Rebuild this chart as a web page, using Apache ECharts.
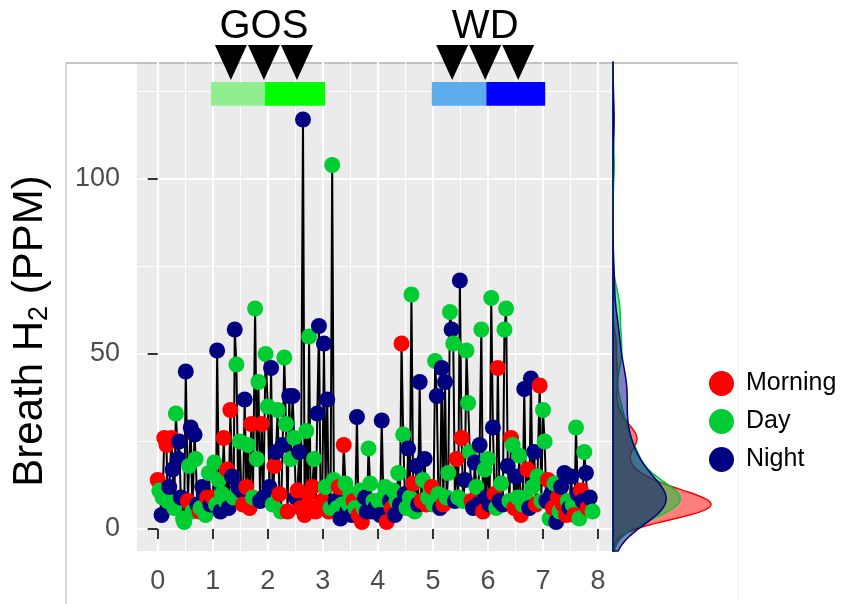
<!DOCTYPE html>
<html><head><meta charset="utf-8">
<script src="https://cdn.jsdelivr.net/npm/echarts@6/dist/echarts.min.js"></script>
<style>html,body{margin:0;padding:0;background:#fff}#c{width:846px;height:604px}</style>
</head><body><div id="c"></div>
<script>
// ---- data ----
const times = [
 0.00,0.03,0.07,0.09,0.12,0.16,0.18,0.21,0.25,0.27,0.30,0.33,0.37,0.39,0.42,0.46,0.48,0.51,0.55,0.57,0.60,0.63,0.67,0.69,0.72,0.76,0.78,0.81,0.85,0.87,0.90,0.93,0.96,
 1.00,1.03,1.06,1.08,1.11,1.14,1.17,1.20,1.23,1.26,1.29,1.32,1.35,1.38,1.40,1.43,1.46,1.49,1.52,1.55,1.58,1.61,1.64,1.67,1.70,1.73,1.77,1.80,1.83,1.86,1.89,1.92,1.96,
 2.00,2.03,2.06,2.09,2.12,2.15,2.18,2.21,2.24,2.27,2.30,2.33,2.36,2.39,2.42,2.45,2.48,2.51,2.54,2.57,2.60,2.64,2.67,2.70,2.73,2.75,2.78,2.81,2.84,2.87,2.90,2.93,2.96,
 2.99,3.02,3.05,3.08,3.11,3.14,3.17,3.20,3.23,3.26,3.29,3.32,3.35,3.38,3.41,3.44,3.47,3.50,3.53,3.56,3.59,3.62,3.65,3.68,3.71,3.74,3.77,3.80,3.83,3.86,3.89,3.92,3.95,
 3.98,4.01,4.04,4.07,4.10,4.13,4.16,4.19,4.22,4.25,4.28,4.31,4.34,4.37,4.40,4.43,4.46,4.49,4.52,4.55,4.58,4.61,4.64,4.67,4.70,4.73,4.76,4.79,4.82,4.85,4.88,4.91,4.95,
 4.98,5.01,5.04,5.07,5.10,5.13,5.16,5.19,5.22,5.25,5.28,5.31,5.34,5.37,5.40,5.43,5.46,5.49,5.52,5.55,5.58,5.61,5.64,5.67,5.70,5.73,5.76,5.79,5.82,5.85,5.88,5.91,5.94,
 5.97,6.00,6.03,6.06,6.09,6.12,6.15,6.18,6.21,6.24,6.27,6.30,6.33,6.36,6.39,6.42,6.45,6.48,6.51,6.54,6.57,6.60,6.63,6.66,6.69,6.72,6.75,6.78,6.81,6.84,6.87,6.90,6.94,
 6.97,7.00,7.03,7.06,7.09,7.12,7.15,7.18,7.21,7.24,7.27,7.30,7.33,7.36,7.39,7.42,7.45,7.48,7.51,7.54,7.57,7.60,7.63,7.66,7.69,7.72,7.75,7.78,7.81,7.85,7.90
];
const h2 = [
 14,11,4,9,26,24,8,12,26,17,6,33,20,25,9,3,2,45,8,18,29,5,27,20,7,5,6,12,10,4,9,16,7,
 9,19,7,51,14,5,10,26,8,17,6,34,15,9,57,47,12,25,11,7,37,12,24,6,30,9,63,20,42,8,30,9,50,
 35,12,46,7,18,22,34,10,5,24,49,30,5,38,20,38,26,9,11,22,6,117,4,28,10,55,6,12,20,5,33,58,7,
 8,53,12,37,5,6,104,14,8,6,12,3,7,24,13,5,7,10,4,8,6,32,4,11,2,6,9,5,23,13,5,8,6,
 5,8,4,31,9,12,2,9,8,6,11,4,8,16,7,53,27,10,6,23,9,67,13,5,18,7,42,8,14,20,7,9,12,
 12,7,48,38,10,6,46,7,42,9,16,62,57,53,8,20,9,71,26,8,14,51,36,22,8,6,19,12,7,24,57,5,17,
 9,20,7,66,29,10,6,46,8,13,7,57,63,18,8,26,24,6,15,9,21,4,7,40,9,17,6,43,12,22,7,15,41,
 8,34,25,8,14,3,10,6,13,2,9,5,12,7,16,4,8,6,15,7,4,29,10,3,11,8,22,16,6,9,5
];
const period = [
 'M','D','N','D','M','M','D','N','M','N','D','D','N','N','N','D','D','N','M','D','N','D','N','D','N','M','D','N','N','D','M','D','N',
 'M','D','D','N','D','N','D','M','D','M','N','M','N','D','N','D','N','D','N','M','N','M','D','M','M','D','D','D','D','N','M','N','D',
 'D','N','N','D','M','N','D','M','D','N','D','D','M','N','D','N','D','N','M','N','M','N','M','D','M','D','M','M','D','M','N','N','M',
 'M','N','D','N','M','D','D','D','N','D','M','N','D','M','D','N','D','D','N','M','D','N','M','D','M','D','N','N','D','D','N','D','N',
 'N','D','N','N','D','D','M','D','N','M','D','N','D','D','N','M','D','N','D','N','D','D','M','D','N','N','N','M','D','N','M','D','D',
 'M','D','D','N','D','N','N','M','N','D','D','D','N','D','N','M','D','N','M','D','N','D','D','D','M','N','N','D','N','N','D','M','D',
 'N','D','N','D','N','M','D','M','N','D','N','D','D','N','D','M','D','M','N','D','D','M','D','N','D','M','N','N','D','N','M','D','M',
 'D','D','D','N','M','D','N','M','D','N','M','D','N','M','N','M','D','N','N','D','M','D','N','D','M','N','D','N','M','N','D'
];
const periodKeys = ['M','D','N'];
const periodNames = ['Morning','Day','Night'];
const xTicks = [0,1,2,3,4,5,6,7,8];
const yTicks = [0,50,100];
const annotLabels = ['GOS','WD'];
const annotLabelX = [1.93, 5.95];
const arrowX = [1.33,1.93,2.53,5.35,5.95,6.55];
const barStart = [0.97,1.95,4.98,5.97];
const barEnd = [1.95,3.04,5.97,7.04];

// ---- styles ----
const FONT = 'Liberation Sans, Arial, Helvetica, sans-serif';
const periodColors = {M:'#FF0000', D:'#00CC33', N:'#000080'};
const periodFills = {M:'rgba(255,0,0,0.5)', D:'rgba(0,204,51,0.5)', N:'rgba(0,0,128,0.5)'};
const barColors = ['#90EE90','#00FF00','#5CACEE','#0000FF'];
const X_MIN = -0.376, X_MAX = 8.272, Y_MIN = -6.29, Y_MAX = 133.43;

// ---- kernel densities (bw.nrd0) ----
function quantile(sorted, q){ const pos=(sorted.length-1)*q, b=Math.floor(pos), r=pos-b; return sorted[b+1]!==undefined ? sorted[b]+r*(sorted[b+1]-sorted[b]) : sorted[b]; }
function kde(vals){
  const n = vals.length, mean = vals.reduce((a,b)=>a+b,0)/n;
  const sd = Math.sqrt(vals.reduce((a,b)=>a+(b-mean)*(b-mean),0)/(n-1));
  const s = vals.slice().sort((a,b)=>a-b);
  const iqr = quantile(s,0.75)-quantile(s,0.25);
  const bw = 0.9*Math.min(sd, iqr/1.34)*Math.pow(n,-0.2);
  const out = [];
  const N = 400;
  for(let k=0;k<=N;k++){
    const y = Y_MIN + (Y_MAX-Y_MIN)*k/N;
    let f = 0;
    for(const v of vals){ const z=(y-v)/bw; f += Math.exp(-0.5*z*z); }
    f /= (n*bw*Math.sqrt(2*Math.PI));
    out.push([f, y]);
  }
  return out;
}
const dens = {};
let densMax = 0;
periodKeys.forEach(k=>{
  const vals = h2.filter((v,i)=>period[i]===k);
  dens[k] = kde(vals);
  dens[k].forEach(p=>{ if(p[0]>densMax) densMax=p[0]; });
});

function densityRender(k){
  return function(params, api){
    const d = dens[k];
    const pts = [api.coord([0, d[0][1]])];
    d.forEach(p=>pts.push(api.coord(p)));
    pts.push(api.coord([0, d[d.length-1][1]]));
    return {type:'polygon', shape:{points:pts}, style:{fill:periodFills[k], stroke:periodColors[k], lineWidth:1.5}};
  };
}

const chart = echarts.init(document.getElementById('c'), null, {renderer:'canvas'});
const xMinor = xTicks.slice(1).map(v=>v-0.5);
const yMinor = yTicks.map(v=>v+25);

const labelStyle = {fontSize:27, color:'#4D4D4D', fontFamily:FONT};
const option = {
  animation:false,
  backgroundColor:'#fff',
  textStyle:{fontFamily:FONT},
  grid:[
    {left:137, top:62, width:476, height:489, show:true, backgroundColor:'#EBEBEB', borderWidth:0},
    {left:613, top:62, width:125, height:489, show:false}
  ],
  xAxis:[
    {type:'value', gridIndex:0, min:X_MIN, max:X_MAX,
     axisLine:{show:false},
     axisTick:{show:true, customValues:xTicks, length:10, lineStyle:{color:'#333', width:2}},
     axisLabel:Object.assign({customValues:xTicks, margin:17}, labelStyle),
     splitLine:{show:true, lineStyle:{color:'#fff', width:2}}},
    {type:'value', gridIndex:0, min:X_MIN, max:X_MAX,
     axisLine:{show:false}, axisTick:{show:false, customValues:xMinor}, axisLabel:{show:false, customValues:xMinor},
     splitLine:{show:true, lineStyle:{color:'#fff', width:1}}},
    {type:'value', gridIndex:1, min:0, max:densMax*125/98, show:false}
  ],
  yAxis:[
    {type:'value', gridIndex:0, min:Y_MIN, max:Y_MAX,
     axisLine:{show:false},
     axisTick:{show:true, customValues:yTicks, length:10, lineStyle:{color:'#333', width:2}},
     axisLabel:Object.assign({customValues:yTicks, margin:17}, labelStyle),
     splitLine:{show:true, lineStyle:{color:'#fff', width:2}}},
    {type:'value', gridIndex:0, min:Y_MIN, max:Y_MAX,
     axisLine:{show:false}, axisTick:{show:false, customValues:yMinor}, axisLabel:{show:false, customValues:yMinor},
     splitLine:{show:true, lineStyle:{color:'#fff', width:1}}},
    {type:'value', gridIndex:1, min:Y_MIN, max:Y_MAX, show:false}
  ],
  legend:{
    data:periodNames, orient:'vertical', left:709, top:371, padding:0,
    itemWidth:25, itemHeight:25, itemGap:13, icon:'circle', selectedMode:false,
    textStyle:{fontSize:25, color:'#000', fontFamily:FONT, padding:[0,0,0,7]}
  },
  graphic:[
    {type:'line', shape:{x1:66, y1:63, x2:66, y2:604}, style:{stroke:'#C8C8C8', lineWidth:1.5}, silent:true},
    {type:'line', shape:{x1:66, y1:63, x2:738, y2:63}, style:{stroke:'#B4B4B4', lineWidth:1.5}, silent:true},
    {type:'line', shape:{x1:738, y1:63, x2:738, y2:600}, style:{stroke:'#F0F0F0', lineWidth:1}, silent:true},
    {type:'text', x:30, y:331, rotation:Math.PI/2, silent:true,
     style:{text:'{a|Breath H}{s|2}{a| (PPM)}', align:'center', verticalAlign:'middle', fill:'#000',
       rich:{a:{fontSize:42, fontFamily:FONT, fill:'#000', lineHeight:50},
             s:{fontSize:27, fontFamily:FONT, fill:'#000', lineHeight:27, verticalAlign:'bottom', padding:[0,0,2,0]}}}}
  ],
  series:[
    {type:'line', xAxisIndex:0, yAxisIndex:0, data:times.map((t,i)=>[t,h2[i]]),
     symbol:'none', lineStyle:{color:'#000', width:2}, z:2, silent:true},
    {type:'scatter', xAxisIndex:0, yAxisIndex:0, symbolSize:16, z:3, silent:true,
     data:times.map((t,i)=>({value:[t,h2[i]], itemStyle:{color:periodColors[period[i]], opacity:1}}))},
    ...periodKeys.map((k,i)=>({type:'scatter', name:periodNames[i], xAxisIndex:0, yAxisIndex:0, data:[], itemStyle:{color:periodColors[k], opacity:1}})),
    ...periodKeys.map(k=>({type:'custom', xAxisIndex:2, yAxisIndex:2, data:[[0,0]], renderItem:densityRender(k), silent:true, z:2})),
    {type:'custom', xAxisIndex:0, yAxisIndex:0, clip:false, silent:true, z:4,
     data:barStart.map((s,i)=>[s, barEnd[i], i]),
     renderItem:function(params, api){
       const p0 = api.coord([api.value(0), 127.7]);
       const p1 = api.coord([api.value(1), 120.9]);
       return {type:'rect', shape:{x:p0[0], y:p0[1], width:p1[0]-p0[0], height:p1[1]-p0[1]}, style:{fill:barColors[api.value(2)]}};
     }},
    {type:'scatter', xAxisIndex:0, yAxisIndex:0, clip:false, silent:true, z:5,
     symbol:'triangle', symbolRotate:180, symbolSize:[32,35], itemStyle:{color:'#000', opacity:1},
     data:arrowX.map(x=>[x,133.3])},
    {type:'scatter', xAxisIndex:0, yAxisIndex:0, clip:false, silent:true, z:5,
     symbolSize:1, itemStyle:{color:'rgba(0,0,0,0)', opacity:1},
     label:{show:true, position:'inside', formatter:p=>annotLabels[p.dataIndex], fontSize:40, color:'#000', opacity:1, fontFamily:FONT},
     data:annotLabelX.map(x=>[x,143.5])}
  ]
};
chart.setOption(option);
</script>
</body></html>
